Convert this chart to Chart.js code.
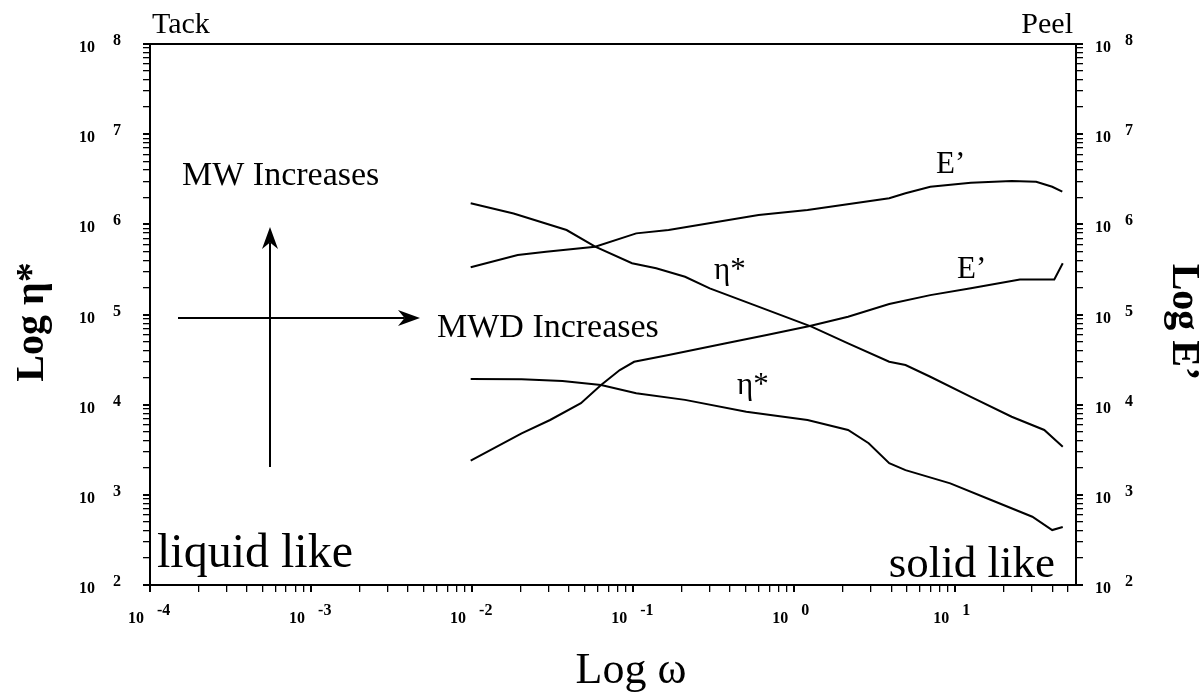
<!DOCTYPE html>
<html>
<head>
<meta charset="utf-8">
<script src="https://cdn.jsdelivr.net/npm/chart.js@4.4.1/dist/chart.umd.min.js"></script>
<style>
html,body{margin:0;padding:0;background:#fff;}
#wrap{width:1204px;height:692px;}
</style>
</head>
<body>
<div id="wrap"><canvas id="c" width="1204" height="692"></canvas></div>
<script>
// ---- data ----
// eta* of the higher curve (left axis)
const omegaEtaHigh = [0.0098,0.0181,0.0386,0.0581,0.0984,0.139,0.210,0.299,0.566,1.28,2.16,3.89,4.91,7.00,12.5,22.4,35.7,46.5];
const etaHigh      = [1.71e6,1.32e6,8.65e5,5.65e5,3.70e5,3.25e5,2.62e5,1.95e5,1.27e5,7.33e4,4.79e4,2.99e4,2.75e4,2.04e4,1.22e4,7.35e3,5.24e3,3.42e3];
// E' of the higher curve (right axis)
const omegaEHigh = [0.0098,0.0192,0.0288,0.0581,0.1045,0.166,0.601,1.21,3.89,4.91,7.00,12.5,22.4,31.8,40.0,46.2];
const eHigh      = [3.34e5,4.57e5,4.97e5,5.65e5,7.94e5,8.65e5,1.27e6,1.44e6,1.95e6,2.21e6,2.61e6,2.90e6,3.02e6,2.97e6,2.61e6,2.30e6];
// E' of the lower curve (right axis)
const omegaELow = [0.0098,0.0203,0.0305,0.0474,0.0632,0.0826,0.1014,0.166,0.377,0.675,1.25,2.16,3.89,7.00,12.5,25.2,41.2,46.5];
const eLow      = [2.39e3,4.81e3,6.76e3,1.04e4,1.65e4,2.42e4,2.99e4,3.56e4,4.79e4,5.93e4,7.45e4,9.46e4,1.31e5,1.64e5,1.95e5,2.45e5,2.45e5,3.70e5];
// eta* of the lower curve (left axis)
const omegaEtaLow = [0.0098,0.0203,0.0364,0.0632,0.1045,0.210,0.504,1.21,2.16,2.90,3.89,4.91,9.31,16.7,30.1,40.0,46.5];
const etaLow      = [1.93e4,1.91e4,1.83e4,1.65e4,1.34e4,1.13e4,8.36e3,6.76e3,5.24e3,3.73e3,2.24e3,1.88e3,1.34e3,877,572,407,440];
// tick labels (powers of ten)
const xTickExponents = [-4,-3,-2,-1,0,1];
const yTickExponents = [2,3,4,5,6,7,8];

const X_MIN = 1e-4, X_MAX = 56.2, Y_MIN = 1e2, Y_MAX = 1e8;

function pts(xs, ys){ return xs.map((x,i)=>({x:x, y:ys[i]})); }
function logTicks(min, max){
  const out = [];
  const lo = Math.floor(Math.log10(min)), hi = Math.ceil(Math.log10(max));
  for (let e = lo; e <= hi; e++){
    for (let m = 1; m <= 9; m++){
      const v = m * Math.pow(10, e);
      if (v >= min*0.999 && v <= max*1.001) out.push({value:v, major:m===1});
    }
  }
  return out;
}
const SERIF = '"Liberation Serif", "Times New Roman", serif';

function arrow(ctx, x1, y1, x2, y2){
  const ang = Math.atan2(y2-y1, x2-x1);
  const L = 22, W = 8;
  ctx.beginPath(); ctx.moveTo(x1,y1);
  ctx.lineTo(x2 - Math.cos(ang)*L*0.7, y2 - Math.sin(ang)*L*0.7); ctx.stroke();
  ctx.save(); ctx.translate(x2,y2); ctx.rotate(ang);
  ctx.beginPath(); ctx.moveTo(0,0); ctx.lineTo(-L, -W); ctx.lineTo(-L*0.7, 0); ctx.lineTo(-L, W); ctx.closePath(); ctx.fill();
  ctx.restore();
}

const decor = {
  id: 'decor',
  afterDraw(chart){
    const ctx = chart.ctx;
    const {left, right, top, bottom} = chart.chartArea;
    const xs = chart.scales.x, yl = chart.scales.y, yr = chart.scales.y2;
    ctx.save();
    ctx.strokeStyle = '#000'; ctx.fillStyle = '#000';
    // top frame
    ctx.lineWidth = 2;
    ctx.beginPath(); ctx.moveTo(left, top); ctx.lineTo(right+1, top); ctx.stroke();

    // tick labels: "10" with raised exponent
    ctx.font = 'bold 16px ' + SERIF;
    ctx.textBaseline = 'alphabetic';
    xTickExponents.forEach(e => {
      const px = xs.getPixelForValue(Math.pow(10, e));
      ctx.textAlign = 'right'; ctx.fillText('10', px - 6, bottom + 38);
      ctx.textAlign = 'left';  ctx.fillText(String(e), px + 7, bottom + 30);
    });
    yTickExponents.forEach(e => {
      const py = yl.getPixelForValue(Math.pow(10, e));
      ctx.textAlign = 'right'; ctx.fillText('10', left - 55, py + 8);
      ctx.textAlign = 'left';  ctx.fillText(String(e), left - 37, py + 1);
      const pr = yr.getPixelForValue(Math.pow(10, e));
      ctx.textAlign = 'left';
      ctx.fillText('10', right + 19, pr + 8);
      ctx.fillText(String(e), right + 49, pr + 1);
    });

    // axis titles
    ctx.font = '44px ' + SERIF; ctx.textAlign = 'center';
    ctx.fillText('Log \u03c9', 631, 683);
    ctx.font = 'bold 40px ' + SERIF;
    ctx.save(); ctx.translate(43, 322); ctx.rotate(-Math.PI/2);
    ctx.fillText('Log \u03b7*', 0, 0); ctx.restore();
    ctx.save(); ctx.translate(1173, 322); ctx.rotate(Math.PI/2);
    ctx.fillText('Log E\u2019', 0, 0); ctx.restore();

    // corner texts
    ctx.font = '30px ' + SERIF;
    ctx.textAlign = 'left';  ctx.fillText('Tack', 152, 33);
    ctx.textAlign = 'right'; ctx.fillText('Peel', 1073, 33);
    ctx.font = '48px ' + SERIF;
    ctx.textAlign = 'left';  ctx.fillText('liquid like', 157, 567);
    ctx.font = '45px ' + SERIF;
    ctx.textAlign = 'right'; ctx.fillText('solid like', 1055, 577);

    // MW / MWD annotations
    ctx.font = '34px ' + SERIF; ctx.textAlign = 'left';
    ctx.fillText('MW Increases', 182, 185);
    ctx.fillText('MWD Increases', 437, 337);
    ctx.lineWidth = 2;
    arrow(ctx, 270, 467, 270, 227);
    arrow(ctx, 178, 318, 420, 318);

    // curve labels
    ctx.font = '31px ' + SERIF; ctx.textAlign = 'left';
    ctx.fillText('E\u2019', 936, 173);
    ctx.fillText('E\u2019', 957, 278);
    ctx.fillText('\u03b7*', 714, 279);
    ctx.fillText('\u03b7*', 737, 394);
    ctx.restore();
  }
};

const lineStyle = {showLine:true, borderColor:'#000', backgroundColor:'#000', borderWidth:2, pointRadius:0, fill:false, tension:0};
const gridOpts = {
  display:true, drawOnChartArea:false, drawTicks:true, tickLength:7, color:'#000',
  lineWidth: c => (c.tick && c.tick.major) ? 2 : 1.3
};
const borderOpts = {display:true, color:'#000', width:2};

new Chart(document.getElementById('c'), {
  type: 'scatter',
  data: {
    datasets: [
      Object.assign({label:'\u03b7* (high)', data: pts(omegaEtaHigh, etaHigh), yAxisID:'y'}, lineStyle),
      Object.assign({label:'E\u2019 (high)', data: pts(omegaEHigh, eHigh), yAxisID:'y2'}, lineStyle),
      Object.assign({label:'E\u2019 (low)',  data: pts(omegaELow, eLow), yAxisID:'y2'}, lineStyle),
      Object.assign({label:'\u03b7* (low)',  data: pts(omegaEtaLow, etaLow), yAxisID:'y'}, lineStyle)
    ]
  },
  options: {
    responsive: false,
    animation: false,
    layout: {padding: {top: 44, left: 0, right: 0, bottom: 0}},
    plugins: {legend: {display: false}, tooltip: {enabled: false}, title: {display: false}},
    scales: {
      x: {
        type: 'logarithmic', position: 'bottom', min: X_MIN, max: X_MAX,
        afterBuildTicks: s => { s.ticks = logTicks(X_MIN, X_MAX); },
        afterFit: s => { s.height = 107; },
        ticks: {display: false, autoSkip: false},
        grid: gridOpts, border: borderOpts
      },
      y: {
        type: 'logarithmic', position: 'left', min: Y_MIN, max: Y_MAX,
        afterBuildTicks: s => { s.ticks = logTicks(Y_MIN, Y_MAX); },
        afterFit: s => { s.width = 150; },
        ticks: {display: false, autoSkip: false},
        grid: gridOpts, border: borderOpts
      },
      y2: {
        type: 'logarithmic', position: 'right', min: Y_MIN, max: Y_MAX,
        afterBuildTicks: s => { s.ticks = logTicks(Y_MIN, Y_MAX); },
        afterFit: s => { s.width = 128; },
        ticks: {display: false, autoSkip: false},
        grid: gridOpts, border: borderOpts
      }
    }
  },
  plugins: [decor]
});
</script>
</body>
</html>
